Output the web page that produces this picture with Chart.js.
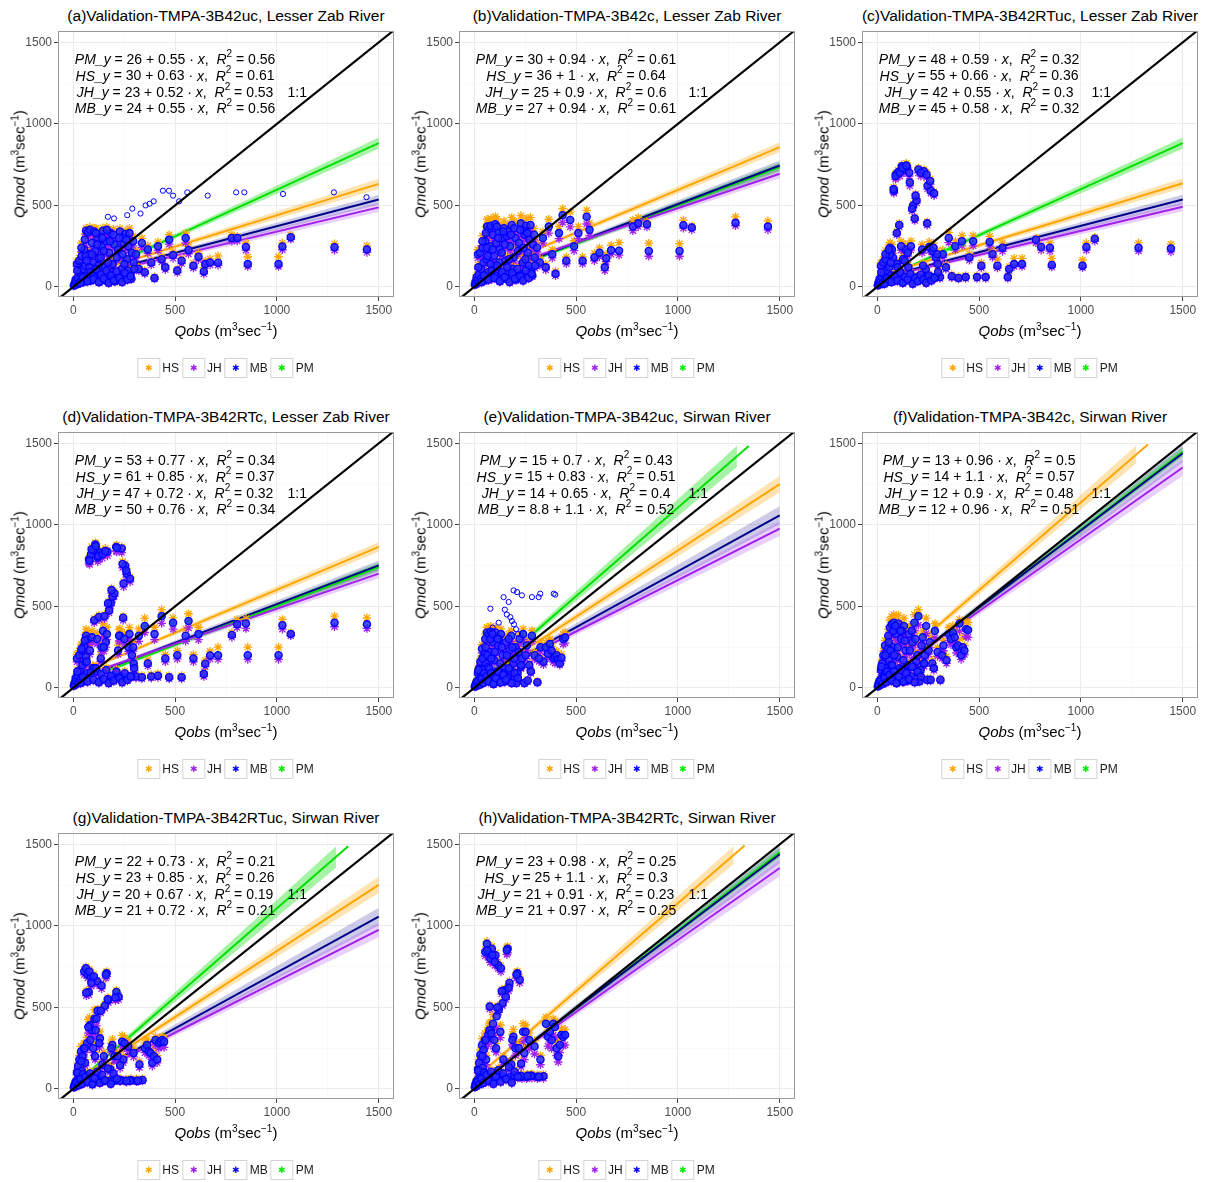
<!DOCTYPE html>
<html>
<head>
<meta charset="utf-8">
<script src="https://cdn.jsdelivr.net/npm/chart.js@4.4.1/dist/chart.umd.min.js"></script>
<style>
  body { margin: 0; background: #fff; font-family: 'Liberation Sans', Arial, sans-serif; color: #000; }
  #page { position: relative; width: 1205px; height: 1182px; overflow: hidden; }
  .panel { position: absolute; width: 400px; height: 400px; }
  .panel canvas { position: absolute; left: 0; top: 0; }
  .ttl { position: absolute; left: 226px; top: 16px; transform: translate(-50%, -50%); font-size: 15.5px; white-space: nowrap; }
  .ylab { position: absolute; left: 19px; top: 164px; transform: translate(-50%, -50%) rotate(-90deg); font-size: 15px; white-space: nowrap; }
  .xlab { position: absolute; left: 226px; top: 330px; transform: translate(-50%, -50%); font-size: 15px; white-space: nowrap; }
  sup { font-size: 10px; line-height: 0; vertical-align: 6px; }
  .lg { position: absolute; left: 227px; top: 358px; transform: translateX(-50%); display: flex; align-items: center; white-space: nowrap; }
  .key { width: 21px; height: 18px; border: 1px solid #d4d4d4; display: flex; align-items: center; justify-content: center; font-size: 9px; margin-right: 2px; }
  .lbl { font-size: 12px; margin-right: 3px; color: #1a1a1a; }
</style>
</head>
<body>
<div id="page"></div>
<script>
// ── Débits observés (axe x) ───────────────────────────────────────────
const lzQobs = [
  3, 6, 9, 12, 15, 18, 22, 25, 29, 33, 37, 41, 45, 50, 54, 59, 63, 68, 72, 77,
  82, 87, 92, 97, 103, 108, 114, 120, 126, 132, 139, 146, 153, 160, 168, 176, 184, 193, 202, 211,
  220, 229, 238, 247, 255, 263, 271, 279, 288, 297, 62, 96, 128, 165, 205, 245,
  308, 322, 337, 351, 366, 383, 399, 416, 434, 452, 471, 490, 511, 532, 552, 566, 590, 615,
  641, 648, 672, 711, 779, 805, 848, 857, 1008, 1027, 1068, 1283, 1442,
  20, 40, 57, 66, 80, 90, 100, 111, 117, 123, 135, 143, 150, 157, 171, 180, 188, 197, 214, 225,
  234, 242, 251, 260, 268, 276, 285, 294,
  35, 48, 70, 85, 99, 112, 125, 137, 149, 162, 174, 186, 199, 212, 226, 240, 253, 266, 281, 299]

const swQobs = [
  3, 6, 9, 12, 15, 18, 21, 24, 27, 30, 34, 38, 42, 46, 50, 54, 58, 62, 66, 71,
  76, 81, 86, 92, 98, 104, 110, 117, 124, 131, 139, 147, 155, 164, 173, 182, 192, 202, 212, 223,
  234, 246, 258, 270, 283, 296, 310, 325, 340, 52, 68, 95, 120, 150, 200, 240,
  352, 362, 371, 380, 388, 396, 404, 412, 420, 428, 437, 446,
  10, 20, 32, 40, 48, 56, 64, 74, 79, 84, 89, 101, 107, 114, 128, 135, 143, 160, 169, 178,
  187, 197, 207, 218, 229, 252, 278, 318,
  8, 16, 26, 36, 44, 60, 70, 82, 94, 106, 118, 130, 142, 156, 170, 184, 198, 214, 230, 262]

const oneToOne = [[-100, -100], [1700, 1700]]

// ── (a) 3B42uc, Lesser Zab ────────────────────────────────────────────
const aMB = [8, 20, 12, 45, 30, 140, 55, 20, 160, 85, 40, 190, 110, 30, 230, 130, 345, 70, 335, 200,
  350, 40, 270, 150, 340, 220, 90, 300, 175, 60, 250, 345, 120, 280, 70, 210, 330, 140, 260, 45,
  230, 340, 110, 270, 325, 170, 250, 80, 210, 150, 190, 95, 30, 350, 35, 300,
  200, 110, 270, 90, 230, 150, 55, 250, 170, 120, 290, 195, 100, 160, 300, 225, 130, 185,
  95, 140, 150, 148, 300, 300, 245, 140, 140, 248, 305, 243, 230,
  100, 240, 290, 160, 120, 200, 60, 330, 260, 130, 180, 300, 220, 40, 150, 280, 90, 320, 180, 300,
  60, 200, 140, 290, 100, 330, 50, 280,
  25, 60, 35, 90, 45, 110, 30, 75, 50, 100, 25, 70, 40, 95, 55, 30, 85, 45, 65, 110]
const aHS = [12, 25, 16, 52, 36, 155, 62, 26, 178, 95, 47, 210, 122, 36, 255, 145, 360, 80, 352, 222,
  368, 48, 298, 166, 358, 243, 100, 330, 194, 68, 276, 362, 133, 308, 78, 232, 348, 155, 287, 52,
  254, 358, 122, 298, 345, 188, 276, 90, 232, 166, 210, 105, 36, 368, 40, 330,
  222, 122, 298, 100, 254, 166, 62, 276, 188, 133, 320, 216, 110, 177, 330, 248, 145, 205,
  118, 160, 172, 190, 320, 310, 268, 185, 185, 270, 318, 265, 252,
  112, 268, 325, 180, 135, 224, 68, 360, 290, 146, 202, 335, 246, 46, 168, 312, 100, 355, 202, 335,
  68, 224, 157, 325, 112, 360, 56, 312,
  32, 70, 42, 102, 52, 124, 36, 86, 58, 114, 30, 80, 47, 108, 63, 36, 97, 52, 74, 124]
const aJH = [6, 17, 10, 40, 26, 125, 48, 17, 144, 76, 35, 170, 98, 26, 205, 116, 320, 62, 310, 180,
  322, 35, 242, 134, 312, 196, 80, 268, 156, 52, 224, 318, 106, 250, 62, 188, 302, 124, 232, 40,
  206, 310, 98, 242, 298, 152, 224, 70, 188, 134, 170, 84, 26, 322, 30, 268,
  178, 98, 242, 80, 206, 134, 48, 224, 152, 106, 262, 175, 88, 143, 270, 202, 116, 166,
  80, 128, 135, 133, 280, 282, 225, 125, 125, 228, 292, 225, 212,
  90, 216, 262, 144, 108, 180, 54, 298, 234, 117, 162, 270, 198, 36, 135, 252, 81, 288, 162, 270,
  54, 180, 126, 262, 90, 298, 45, 252,
  20, 52, 30, 80, 39, 98, 25, 66, 44, 88, 20, 62, 34, 84, 48, 25, 75, 39, 57, 98]
const aMBopen = [[170, 430], [265, 440], [290, 480], [330, 450], [355, 500], [375, 510], [395, 525],
  [440, 590], [470, 590], [490, 560], [520, 525], [560, 580], [660, 560], [800, 580], [840, 580],
  [1030, 570], [1280, 580], [1440, 550], [30, 130], [200, 420]]
const aPM = [[103, 340], [139, 250], [202, 260], [247, 270], [308, 200], [366, 230], [471, 290], [552, 300]]
const aFit = [[0, 55, 1500, 632], [0, 42, 1500, 488], [0, 45, 1500, 536], [0, 25, 1500, 882]]
const aBand = [[0, 48, 62, 1500, 600, 664], [0, 35, 49, 1500, 460, 516], [0, 38, 52, 1500, 506, 566], [0, 18, 32, 1500, 847, 917]]
const aEq = [['PM', '26', '0.55', '0.56'], ['HS', '30', '0.63', '0.61'], ['JH', '23', '0.52', '0.53'], ['MB', '24', '0.55', '0.56']]

// ── (b) 3B42c, Lesser Zab ─────────────────────────────────────────────
const bMB = [15, 30, 20, 60, 40, 200, 75, 30, 210, 110, 55, 240, 150, 40, 280, 170, 370, 90, 355, 250,
  375, 55, 320, 190, 385, 270, 120, 340, 230, 75, 300, 360, 160, 310, 95, 250, 380, 180, 300, 60,
  270, 390, 150, 320, 375, 210, 290, 110, 260, 180, 240, 130, 40, 340, 45, 345,
  240, 150, 300, 120, 370, 200, 80, 330, 440, 160, 410, 250, 330, 160, 430, 350, 180, 210,
  120, 175, 225, 222, 370, 390, 385, 220, 220, 378, 365, 393, 370,
  120, 280, 330, 190, 140, 230, 70, 370, 300, 150, 210, 340, 260, 50, 170, 320, 110, 360, 220, 350,
  80, 240, 170, 330, 130, 380, 70, 320,
  30, 70, 45, 100, 55, 130, 35, 90, 60, 120, 30, 85, 50, 110, 65, 40, 100, 55, 80, 130]
const bHS = [24, 41, 30, 74, 52, 228, 90, 41, 239, 129, 68, 272, 173, 52, 316, 195, 415, 107, 398, 283,
  420, 68, 360, 217, 432, 305, 140, 382, 261, 90, 338, 404, 184, 349, 112, 283, 426, 206, 338, 74,
  305, 437, 173, 360, 420, 239, 327, 129, 294, 206, 272, 151, 52, 382, 58, 388,
  272, 173, 338, 140, 415, 228, 96, 371, 480, 184, 459, 283, 371, 184, 470, 393, 206, 239,
  140, 200, 255, 272, 410, 425, 400, 268, 265, 410, 375, 430, 405,
  134, 314, 370, 213, 157, 258, 78, 415, 336, 168, 235, 380, 291, 56, 190, 358, 123, 403, 246, 392,
  90, 269, 190, 370, 146, 425, 78, 358,
  38, 82, 54, 118, 65, 152, 42, 106, 70, 140, 36, 100, 60, 128, 76, 48, 117, 65, 94, 152]
const bJH = [10, 24, 15, 50, 32, 178, 64, 24, 186, 96, 46, 214, 132, 32, 250, 150, 332, 78, 318, 222,
  336, 46, 286, 168, 344, 240, 104, 304, 204, 64, 268, 322, 142, 276, 82, 222, 340, 160, 268, 50,
  240, 350, 132, 286, 336, 186, 258, 96, 232, 160, 214, 114, 32, 304, 38, 308,
  214, 132, 268, 104, 330, 178, 68, 296, 395, 142, 368, 222, 296, 142, 386, 314, 160, 186,
  100, 155, 200, 195, 345, 370, 368, 188, 188, 360, 350, 375, 350,
  108, 252, 297, 171, 126, 207, 63, 333, 270, 135, 189, 306, 234, 45, 153, 288, 99, 324, 198, 315,
  72, 216, 153, 297, 117, 342, 63, 288,
  24, 60, 38, 88, 48, 114, 30, 78, 52, 106, 24, 74, 43, 96, 56, 34, 88, 48, 70, 114]
const bPM = [[120, 340], [176, 250], [247, 320], [337, 300], [416, 330], [490, 250], [566, 350], [615, 210]]
const bFit = [[0, 70, 1500, 858], [0, 60, 1500, 694], [0, 35, 1500, 745], [0, 30, 1500, 735]]
const bBand = [[0, 63, 77, 1500, 828, 888], [0, 53, 67, 1500, 666, 722], [0, 28, 42, 1500, 715, 775], [0, 23, 37, 1500, 707, 763]]
const bEq = [['PM', '30', '0.94', '0.61'], ['HS', '36', '1', '0.64'], ['JH', '25', '0.9', '0.6'], ['MB', '27', '0.94', '0.61']]

// ── (c) 3B42RTuc, Lesser Zab ──────────────────────────────────────────
const cMB = [10, 25, 15, 50, 30, 130, 60, 20, 150, 80, 40, 170, 100, 30, 200, 120, 240, 70, 230, 180,
  590, 40, 690, 140, 705, 380, 90, 740, 170, 720, 230, 735, 120, 640, 60, 500, 420, 530, 720, 45,
  230, 710, 110, 620, 245, 590, 220, 575, 180, 140, 200, 330, 30, 250, 50, 390,
  60, 200, 120, 300, 65, 250, 55, 280, 60, 180, 280, 60, 130, 60, 275, 200, 130, 240,
  60, 110, 140, 140, 290, 245, 240, 135, 130, 245, 295, 240, 235,
  90, 200, 230, 150, 600, 680, 120, 700, 250, 730, 160, 745, 210, 700, 480, 40, 560, 60, 700, 130,
  60, 690, 60, 650, 60, 240, 60, 200,
  20, 50, 30, 70, 40, 90, 25, 60, 45, 80, 20, 55, 35, 75, 45, 25, 70, 40, 55, 90]
const cHS = [14, 30, 20, 58, 36, 148, 70, 25, 170, 92, 46, 192, 114, 36, 226, 136, 272, 80, 260, 204,
  600, 46, 700, 160, 715, 390, 102, 750, 192, 730, 260, 745, 136, 650, 70, 510, 430, 540, 730, 52,
  260, 720, 125, 630, 276, 600, 250, 585, 204, 160, 226, 340, 36, 282, 58, 400,
  70, 226, 136, 335, 75, 282, 64, 315, 70, 204, 315, 70, 148, 70, 310, 226, 170, 270,
  70, 125, 175, 175, 300, 255, 270, 175, 165, 270, 305, 270, 262,
  100, 224, 258, 168, 612, 694, 134, 714, 280, 745, 179, 760, 235, 714, 490, 45, 571, 67, 714, 146,
  67, 704, 67, 663, 67, 269, 67, 224,
  25, 58, 36, 80, 46, 102, 30, 68, 52, 92, 25, 63, 40, 86, 52, 30, 80, 46, 63, 102]
const cJH = [7, 20, 11, 44, 25, 118, 53, 16, 136, 72, 35, 155, 90, 25, 182, 108, 218, 62, 208, 164,
  575, 35, 670, 126, 685, 368, 80, 720, 154, 700, 208, 715, 108, 620, 53, 485, 408, 515, 700, 40,
  208, 690, 98, 600, 222, 575, 198, 560, 164, 126, 182, 320, 25, 226, 44, 378,
  52, 182, 108, 272, 56, 226, 48, 252, 52, 164, 252, 52, 116, 52, 250, 182, 116, 218,
  52, 100, 125, 125, 270, 225, 220, 122, 118, 225, 280, 220, 215,
  81, 180, 207, 135, 582, 660, 108, 679, 225, 708, 144, 723, 189, 679, 466, 36, 543, 54, 679, 117,
  54, 669, 54, 630, 54, 216, 54, 180,
  15, 43, 25, 62, 34, 80, 20, 52, 38, 70, 15, 48, 30, 66, 38, 20, 62, 34, 48, 80]
const cPM = [[120, 740], [202, 720], [330, 220], [360, 235], [390, 250], [420, 262], [471, 280], [552, 275]]
const cFit = [[0, 65, 1500, 636], [0, 48, 1500, 492], [0, 52, 1500, 536], [0, 35, 1500, 882]]
const cBand = [[0, 58, 72, 1500, 606, 666], [0, 41, 55, 1500, 464, 520], [0, 45, 59, 1500, 506, 566], [0, 28, 42, 1500, 847, 917]]
const cEq = [['PM', '48', '0.59', '0.32'], ['HS', '55', '0.66', '0.36'], ['JH', '42', '0.55', '0.3'], ['MB', '45', '0.58', '0.32']]

// ── (d) 3B42RTc, Lesser Zab ───────────────────────────────────────────
const dMB = [15, 30, 20, 60, 40, 180, 75, 30, 200, 110, 55, 230, 140, 40, 260, 160, 320, 90, 300, 790,
  230, 820, 310, 845, 415, 880, 100, 800, 435, 830, 250, 350, 440, 280, 835, 475, 520, 560, 580, 865,
  230, 320, 855, 640, 750, 700, 250, 670, 200, 150, 190, 120, 40, 330, 70, 430,
  70, 320, 65, 380, 150, 70, 330, 75, 440, 180, 65, 400, 200, 65, 320, 410, 180, 330,
  86, 148, 199, 200, 325, 390, 395, 200, 200, 385, 330, 400, 390,
  100, 240, 290, 160, 780, 850, 120, 870, 300, 810, 180, 820, 250, 840, 520, 50, 600, 70, 860, 320,
  70, 760, 300, 720, 70, 330, 70, 250,
  30, 65, 40, 95, 50, 120, 35, 85, 55, 110, 30, 75, 45, 100, 60, 35, 90, 50, 70, 120]
const dHS = [20, 36, 25, 70, 48, 205, 86, 36, 228, 125, 64, 262, 160, 48, 295, 182, 360, 104, 340, 800,
  262, 830, 350, 855, 425, 890, 115, 812, 445, 840, 285, 395, 450, 318, 845, 485, 530, 570, 592, 875,
  262, 362, 865, 652, 762, 712, 285, 680, 228, 172, 216, 138, 48, 372, 82, 440,
  82, 362, 76, 428, 172, 82, 372, 88, 480, 205, 76, 430, 228, 76, 362, 455, 205, 372,
  100, 170, 225, 250, 340, 420, 425, 250, 250, 420, 340, 440, 430,
  112, 268, 325, 180, 795, 867, 134, 887, 336, 826, 202, 836, 280, 857, 530, 56, 612, 78, 877, 358,
  78, 775, 336, 734, 78, 370, 78, 280,
  38, 75, 48, 108, 58, 136, 42, 97, 63, 125, 36, 86, 53, 114, 69, 42, 103, 58, 80, 136]
const dJH = [10, 25, 15, 52, 34, 160, 66, 25, 178, 98, 48, 206, 125, 34, 232, 143, 288, 80, 268, 765,
  206, 795, 278, 820, 400, 855, 88, 775, 420, 805, 224, 315, 425, 250, 810, 460, 505, 542, 562, 840,
  206, 286, 830, 620, 728, 680, 224, 650, 178, 134, 170, 106, 34, 296, 60, 415,
  60, 286, 56, 340, 134, 60, 296, 64, 396, 160, 56, 360, 178, 56, 286, 368, 160, 296,
  70, 130, 178, 175, 310, 370, 365, 175, 175, 360, 320, 375, 365,
  90, 216, 262, 144, 757, 825, 108, 844, 270, 786, 162, 795, 225, 815, 504, 45, 582, 63, 834, 288,
  63, 737, 270, 698, 63, 297, 63, 225,
  24, 56, 34, 84, 43, 106, 29, 75, 48, 97, 24, 66, 38, 88, 52, 29, 79, 43, 61, 106]
const dPM = [[108, 880], [211, 865], [255, 750], [351, 380], [434, 440], [490, 400], [566, 410], [615, 330]]
const dFit = [[0, 75, 1500, 865], [0, 55, 1500, 701], [0, 40, 1500, 752], [0, 25, 1500, 742]]
const dBand = [[0, 68, 82, 1500, 835, 895], [0, 48, 62, 1500, 673, 729], [0, 33, 47, 1500, 722, 782], [0, 18, 32, 1500, 714, 770]]
const dEq = [['PM', '53', '0.77', '0.34'], ['HS', '61', '0.85', '0.37'], ['JH', '47', '0.72', '0.32'], ['MB', '50', '0.76', '0.34']]

// ── (e) 3B42uc, Sirwan ────────────────────────────────────────────────
const eMB = [8, 20, 12, 40, 25, 90, 50, 120, 30, 160, 70, 240, 110, 190, 40, 300, 150, 340, 80, 330,
  220, 345, 60, 280, 170, 340, 100, 260, 35, 330, 200, 120, 280, 60, 230, 320, 150, 250, 90, 300,
  180, 30, 260, 140, 320, 200, 35, 250, 160, 210, 130, 25, 300, 40, 60, 330,
  250, 210, 270, 230, 180, 190, 200, 175, 150, 185, 300, 310,
  30, 110, 60, 180, 90, 250, 200, 120, 300, 180, 330, 220, 60, 300, 150, 250, 90, 200, 300, 110,
  250, 180, 30, 220, 130, 200, 100, 180,
  15, 35, 20, 55, 30, 70, 40, 90, 25, 60, 100, 35, 80, 50, 120, 30, 90, 60, 140, 45]
const eHS = [10, 24, 16, 46, 30, 102, 58, 135, 36, 178, 80, 265, 124, 210, 46, 330, 168, 372, 92, 362,
  244, 378, 70, 310, 190, 372, 112, 288, 42, 362, 222, 135, 310, 70, 255, 352, 168, 278, 102, 330,
  200, 38, 288, 158, 352, 222, 42, 278, 180, 232, 146, 30, 330, 48, 70, 362,
  278, 235, 300, 255, 202, 212, 225, 196, 170, 207, 330, 342,
  33, 121, 66, 198, 99, 275, 220, 132, 330, 198, 363, 242, 66, 330, 165, 275, 99, 220, 330, 121,
  275, 198, 33, 242, 143, 220, 110, 198,
  18, 40, 24, 62, 35, 78, 46, 100, 30, 68, 112, 40, 90, 57, 134, 35, 100, 68, 156, 52]
const eJH = [6, 16, 9, 34, 21, 78, 44, 106, 25, 142, 62, 214, 97, 170, 34, 268, 133, 305, 70, 296,
  196, 310, 52, 250, 152, 305, 88, 232, 30, 296, 178, 106, 250, 52, 205, 286, 133, 222, 80, 268,
  160, 25, 232, 124, 286, 178, 30, 222, 142, 186, 115, 20, 268, 34, 52, 296,
  222, 186, 240, 205, 160, 150, 178, 155, 140, 165, 268, 275,
  27, 99, 54, 162, 81, 225, 180, 108, 270, 162, 297, 198, 54, 270, 135, 225, 81, 180, 270, 99,
  225, 162, 27, 198, 117, 180, 90, 162,
  12, 30, 16, 47, 25, 60, 34, 78, 20, 52, 86, 30, 69, 43, 104, 25, 78, 52, 122, 38]
const eMBopen = [[79, 486], [144, 557], [169, 527], [193, 598], [210, 588], [234, 568], [283, 557],
  [316, 557], [324, 578], [390, 578], [398, 572], [177, 434], [185, 410], [195, 390], [205, 360],
  [215, 330], [160, 450], [120, 400], [90, 370], [150, 480]]
const ePM = [[62, 340], [131, 330], [240, 330], [283, 320], [352, 250], [371, 270], [437, 300], [446, 310]]
const eFit = [[0, 30, 1500, 1250], [0, 30, 1500, 977], [0, 30, 1500, 1059], [0, 20, 1348, 1484]]
const eBand = [[0, 22, 38, 1500, 1200, 1300], [0, 22, 38, 1500, 932, 1022], [0, 22, 38, 1500, 1004, 1114], [0, 12, 28, 1290, 1356, 1486]]
const eEq = [['PM', '15', '0.7', '0.43'], ['HS', '15', '0.83', '0.51'], ['JH', '14', '0.65', '0.4'], ['MB', '8.8', '1.1', '0.52']]

// ── (f) 3B42c, Sirwan ─────────────────────────────────────────────────
const fMB = [10, 25, 15, 45, 30, 110, 60, 150, 35, 200, 80, 260, 120, 220, 45, 320, 170, 370, 90, 390,
  250, 400, 70, 330, 190, 395, 120, 300, 40, 380, 230, 140, 330, 70, 280, 400, 160, 440, 110, 310,
  200, 50, 280, 150, 350, 220, 50, 260, 170, 240, 140, 30, 350, 45, 90, 380,
  330, 300, 340, 310, 250, 260, 395, 200, 250, 230, 360, 355,
  35, 130, 70, 200, 100, 280, 230, 140, 350, 200, 380, 250, 70, 350, 170, 290, 100, 230, 350, 130,
  300, 200, 40, 260, 150, 230, 120, 200,
  18, 40, 25, 60, 35, 80, 45, 100, 30, 70, 110, 40, 90, 55, 130, 35, 100, 70, 150, 50]
const fHS = [12, 30, 18, 52, 36, 124, 68, 170, 40, 226, 90, 292, 135, 248, 52, 360, 192, 415, 102, 438,
  282, 450, 80, 372, 214, 445, 135, 338, 46, 428, 260, 158, 372, 80, 315, 450, 180, 480, 124, 348,
  226, 58, 315, 170, 395, 248, 58, 292, 192, 270, 158, 36, 395, 52, 102, 428,
  372, 338, 382, 348, 282, 292, 420, 228, 310, 260, 405, 400,
  39, 146, 78, 224, 112, 314, 258, 157, 392, 224, 426, 280, 78, 392, 190, 325, 112, 258, 392, 146,
  336, 224, 45, 291, 168, 258, 134, 224,
  21, 46, 30, 68, 40, 90, 52, 112, 35, 80, 124, 46, 102, 63, 146, 40, 112, 80, 168, 57]
const fJH = [7, 20, 11, 38, 24, 96, 52, 132, 28, 176, 70, 228, 105, 194, 38, 282, 150, 325, 78, 343,
  220, 352, 60, 290, 166, 348, 105, 264, 34, 334, 202, 122, 290, 60, 246, 352, 140, 386, 96, 272,
  176, 42, 246, 132, 308, 194, 42, 228, 150, 210, 122, 25, 308, 38, 78, 334,
  290, 264, 298, 272, 215, 225, 348, 175, 200, 205, 315, 310,
  31, 117, 63, 180, 90, 252, 207, 126, 315, 180, 342, 225, 63, 315, 153, 261, 90, 207, 315, 117,
  270, 180, 36, 234, 135, 207, 108, 180,
  14, 34, 20, 52, 30, 70, 38, 88, 25, 60, 96, 34, 78, 47, 114, 30, 88, 60, 132, 43]
const fPM = [[81, 400], [182, 400], [202, 440], [283, 350], [352, 330], [371, 340], [404, 395], [437, 360]]
const fFit = [[0, 60, 1329, 1494], [0, 30, 1500, 1352], [0, 20, 1500, 1440], [0, 15, 1500, 1449]]
const fBand = [[0, 52, 68, 1272, 1378, 1488], [0, 22, 38, 1500, 1302, 1402], [0, 12, 28, 1500, 1385, 1495], [0, 8, 22, 1500, 1419, 1479]]
const fEq = [['PM', '13', '0.96', '0.5'], ['HS', '14', '1.1', '0.57'], ['JH', '12', '0.9', '0.48'], ['MB', '12', '0.96', '0.51']]

// ── (g) 3B42RTuc, Sirwan ──────────────────────────────────────────────
const gMB = [10, 25, 15, 45, 30, 100, 55, 140, 35, 180, 75, 230, 110, 200, 40, 720, 160, 740, 80, 700,
  595, 390, 690, 360, 250, 430, 360, 660, 55, 310, 635, 50, 510, 710, 545, 120, 270, 200, 595, 565,
  55, 180, 50, 260, 55, 220, 50, 150, 55, 250, 280, 40, 480, 200, 50, 290,
  250, 270, 230, 220, 160, 200, 300, 180, 280, 290, 300, 290,
  30, 100, 60, 170, 90, 250, 590, 380, 720, 300, 650, 690, 200, 430, 280, 480, 150, 700, 550, 50,
  250, 50, 560, 200, 50, 280, 50, 50,
  16, 38, 22, 58, 32, 75, 42, 95, 28, 65, 105, 38, 85, 52, 125, 32, 95, 62, 145, 48]
const gHS = [12, 30, 18, 52, 36, 114, 64, 158, 40, 204, 86, 260, 124, 226, 46, 730, 180, 750, 92, 710,
  605, 440, 700, 405, 282, 485, 405, 670, 64, 350, 645, 60, 520, 720, 555, 136, 305, 226, 605, 575,
  64, 204, 60, 294, 64, 250, 60, 170, 64, 282, 316, 46, 490, 226, 60, 328,
  282, 305, 260, 248, 180, 226, 320, 204, 300, 310, 320, 310,
  34, 112, 67, 190, 100, 280, 602, 426, 734, 336, 663, 704, 224, 482, 314, 490, 168, 714, 561, 56,
  280, 56, 571, 224, 56, 314, 56, 56,
  19, 43, 26, 66, 37, 84, 48, 107, 32, 74, 118, 43, 96, 59, 140, 37, 107, 70, 163, 55]
const gJH = [7, 20, 11, 38, 24, 88, 48, 124, 28, 160, 66, 205, 98, 178, 34, 700, 142, 718, 70, 680,
  578, 350, 670, 322, 222, 418, 322, 640, 48, 278, 615, 44, 495, 690, 528, 106, 240, 178, 578, 548,
  48, 160, 44, 232, 48, 196, 44, 132, 48, 222, 250, 34, 465, 178, 44, 258,
  222, 240, 205, 195, 140, 178, 268, 160, 250, 258, 265, 255,
  27, 90, 54, 153, 81, 225, 572, 342, 698, 270, 630, 669, 180, 387, 252, 466, 135, 679, 533, 45,
  225, 45, 543, 180, 45, 252, 45, 45,
  13, 32, 18, 50, 27, 64, 36, 82, 23, 56, 90, 32, 73, 45, 108, 27, 82, 54, 126, 41]
const gPM = [[54, 720], [62, 740], [164, 710], [212, 595], [352, 250], [362, 270], [404, 300], [428, 290]]
const gFit = [[0, 35, 1500, 1252], [0, 30, 1500, 975], [0, 30, 1500, 1057], [0, 20, 1350, 1488]]
const gBand = [[0, 27, 43, 1500, 1202, 1302], [0, 22, 38, 1500, 930, 1020], [0, 22, 38, 1500, 1002, 1112], [0, 12, 28, 1291, 1358, 1488]]
const gEq = [['PM', '22', '0.73', '0.21'], ['HS', '23', '0.85', '0.26'], ['JH', '20', '0.67', '0.19'], ['MB', '21', '0.72', '0.21']]

// ── (h) 3B42RTc, Sirwan ───────────────────────────────────────────────
const hMB = [12, 30, 18, 50, 35, 120, 60, 160, 40, 210, 85, 270, 130, 240, 45, 840, 180, 890, 90, 830,
  505, 360, 860, 400, 300, 820, 445, 760, 80, 740, 525, 75, 565, 860, 650, 150, 320, 250, 710, 670,
  75, 220, 75, 300, 80, 260, 75, 180, 78, 300, 330, 50, 485, 605, 80, 350,
  400, 320, 350, 300, 400, 380, 250, 200, 270, 330, 320, 330,
  35, 110, 70, 200, 100, 300, 850, 360, 800, 340, 820, 780, 250, 500, 350, 600, 180, 850, 620, 75,
  300, 80, 700, 250, 80, 350, 80, 75,
  20, 42, 28, 62, 36, 85, 48, 105, 32, 75, 115, 45, 95, 60, 135, 40, 105, 75, 155, 80]
const hHS = [14, 36, 22, 58, 42, 138, 70, 182, 46, 240, 98, 308, 148, 274, 52, 855, 205, 905, 104, 845,
  515, 410, 875, 455, 342, 835, 500, 775, 92, 755, 535, 86, 575, 875, 662, 172, 365, 285, 722, 685,
  86, 250, 86, 342, 92, 296, 86, 205, 90, 342, 376, 58, 495, 615, 92, 400,
  440, 360, 395, 340, 430, 420, 282, 228, 300, 370, 360, 365,
  39, 123, 78, 224, 112, 336, 867, 403, 816, 381, 836, 796, 280, 510, 392, 612, 202, 867, 632, 84,
  336, 90, 714, 280, 90, 392, 90, 84,
  24, 48, 33, 70, 42, 96, 55, 118, 37, 85, 130, 52, 107, 68, 152, 46, 118, 85, 174, 90]
const hJH = [8, 24, 14, 42, 28, 98, 50, 132, 32, 172, 70, 222, 108, 198, 38, 815, 148, 865, 74, 805,
  490, 300, 835, 330, 246, 795, 370, 738, 66, 718, 510, 62, 548, 835, 630, 124, 262, 205, 690, 650,
  62, 180, 62, 246, 66, 214, 62, 148, 64, 246, 272, 40, 470, 587, 66, 288,
  330, 262, 288, 248, 330, 315, 205, 165, 222, 275, 265, 270,
  31, 99, 63, 180, 90, 270, 825, 324, 776, 306, 795, 757, 225, 485, 315, 582, 162, 825, 601, 68,
  270, 72, 679, 225, 72, 315, 72, 68,
  16, 36, 23, 54, 31, 74, 41, 91, 27, 65, 100, 38, 82, 52, 118, 34, 91, 65, 135, 70]
const hPM = [[54, 840], [62, 890], [164, 860], [212, 710], [352, 400], [388, 400], [428, 330], [446, 330]]
const hFit = [[0, 60, 1328, 1494], [0, 30, 1500, 1355], [0, 20, 1500, 1440], [0, 15, 1500, 1451]]
const hBand = [[0, 52, 68, 1274, 1380, 1490], [0, 22, 38, 1500, 1305, 1405], [0, 12, 28, 1500, 1385, 1495], [0, 8, 22, 1500, 1421, 1481]]
const hEq = [['PM', '23', '0.98', '0.25'], ['HS', '25', '1.1', '0.3'], ['JH', '21', '0.91', '0.23'], ['MB', '21', '0.97', '0.25']]

// ── Panneaux ──────────────────────────────────────────────────────────
const panels = [
  { pos: [0, 0],     title: '(a)Validation-TMPA-3B42uc, Lesser Zab River',   obs: lzQobs, hs: aHS, jh: aJH, mb: aMB, mbOpen: aMBopen, pm: aPM, fit: aFit, band: aBand, eq: aEq },
  { pos: [401, 0],   title: '(b)Validation-TMPA-3B42c, Lesser Zab River',    obs: lzQobs, hs: bHS, jh: bJH, mb: bMB, mbOpen: [], pm: bPM, fit: bFit, band: bBand, eq: bEq },
  { pos: [804, 0],   title: '(c)Validation-TMPA-3B42RTuc, Lesser Zab River', obs: lzQobs, hs: cHS, jh: cJH, mb: cMB, mbOpen: [], pm: cPM, fit: cFit, band: cBand, eq: cEq },
  { pos: [0, 401],   title: '(d)Validation-TMPA-3B42RTc, Lesser Zab River',  obs: lzQobs, hs: dHS, jh: dJH, mb: dMB, mbOpen: [], pm: dPM, fit: dFit, band: dBand, eq: dEq },
  { pos: [401, 401], title: '(e)Validation-TMPA-3B42uc, Sirwan River',       obs: swQobs, hs: eHS, jh: eJH, mb: eMB, mbOpen: eMBopen, pm: ePM, fit: eFit, band: eBand, eq: eEq },
  { pos: [804, 401], title: '(f)Validation-TMPA-3B42c, Sirwan River',        obs: swQobs, hs: fHS, jh: fJH, mb: fMB, mbOpen: [], pm: fPM, fit: fFit, band: fBand, eq: fEq },
  { pos: [0, 802],   title: '(g)Validation-TMPA-3B42RTuc, Sirwan River',     obs: swQobs, hs: gHS, jh: gJH, mb: gMB, mbOpen: [], pm: gPM, fit: gFit, band: gBand, eq: gEq },
  { pos: [401, 802], title: '(h)Validation-TMPA-3B42RTc, Sirwan River',      obs: swQobs, hs: hHS, jh: hJH, mb: hMB, mbOpen: [], pm: hPM, fit: hFit, band: hBand, eq: hEq },
]

// ── Styles communs ────────────────────────────────────────────────────
const FONT   = "'Liberation Sans', Arial, sans-serif"
const SERIES = ['HS', 'JH', 'MB', 'PM']
const PT     = { HS: '#FFA500', JH: '#A020F0', MB: '#0000FF', PM: '#00EE00' }
const LINE   = { HS: '#FFA500', JH: '#A020F0', MB: '#00008B', PM: '#00E000' }
const BAND   = { HS: 'rgba(255,165,0,0.3)', JH: 'rgba(160,32,240,0.22)', MB: 'rgba(0,0,139,0.2)', PM: 'rgba(0,220,0,0.35)' }
const EQ_X   = 500
const EQ_Y   = [1390, 1290, 1188, 1088]

Chart.defaults.font.family = FONT

const pts   = (xs, ys) => ys.map((y, i) => ({ x: xs[i], y }))
const pairs = arr => arr.map(([x, y]) => ({ x, y }))
const major = ctx => ctx.tick && ctx.tick.value % 500 === 0

const axis = (min, max, fit) => ({
    type: 'linear', min, max,
    afterFit: fit,
    border: { display: false },
    ticks: { stepSize: 250, includeBounds: false, autoSkip: false, maxRotation: 0, padding: 2,
             color: '#4d4d4d', font: { size: 12 }, callback: v => v % 500 === 0 ? v : '' },
    grid: { color: c => major(c) ? '#ebebeb' : '#f5f5f5', lineWidth: c => major(c) ? 1 : 0.6,
            tickLength: 4, tickWidth: 1, tickColor: c => major(c) ? '#444' : 'rgba(0,0,0,0)' },
})

// équation façon plotmath : PM_y = a + b · x,  R² = r
function drawEq(ctx, cx, cy, row) {
    const [name, a, b, r2] = row
    const runs = [[name + '_y', 1], [' = ' + a + ' + ' + b + ' · ', 0], ['x', 1], [',  ', 0], ['R', 1], ['2', 2], [' = ' + r2, 0]]
    const font = k => k === 1 ? 'italic 14px ' + FONT : k === 2 ? '10px ' + FONT : '14px ' + FONT
    let w = 0
    runs.forEach(([t, k]) => { ctx.font = font(k); w += ctx.measureText(t).width })
    let px = cx - w / 2
    runs.forEach(([t, k]) => {
        ctx.font = font(k)
        ctx.fillText(t, px, k === 2 ? cy - 6 : cy)
        px += ctx.measureText(t).width
    })
}

const legendHtml = SERIES.map(s =>
    `<span class="key"><span style="color:${PT[s]}">✱</span></span><span class="lbl">${s}</span>`).join('')
const unit = '(m<sup>3</sup>sec<sup>−1</sup>)'

const page = document.getElementById('page')

panels.forEach(p => {
    const wrap = document.createElement('div')
    wrap.className = 'panel'
    wrap.style.left = p.pos[0] + 'px'
    wrap.style.top  = p.pos[1] + 'px'
    wrap.innerHTML = `<div class="ttl">${p.title}</div>
        <canvas width="400" height="330"></canvas>
        <div class="ylab"><i>Qmod</i> ${unit}</div>
        <div class="xlab"><i>Qobs</i> ${unit}</div>
        <div class="lg">${legendHtml}</div>`
    page.appendChild(wrap)

    const ds = [
        { type: 'line', data: pairs(oneToOne), borderColor: '#000', borderWidth: 2.2, pointRadius: 0, order: 0, clip: 0 },
        { data: pairs(p.mbOpen), pointStyle: 'circle', pointRadius: 2.6, borderColor: PT.MB, borderWidth: 1, backgroundColor: 'rgba(0,0,0,0)', order: 1, clip: 0 },
        { data: pts(p.obs, p.mb), pointStyle: 'circle', pointRadius: 3.6, borderColor: PT.MB, borderWidth: 1.3, backgroundColor: 'rgba(40,40,255,0.85)', order: 1, clip: 0 },
        { data: pairs(p.pm), pointStyle: 'star', pointRadius: 2.6, borderColor: PT.PM, borderWidth: 1, order: 2, clip: 0 },
        { data: pts(p.obs, p.jh), pointStyle: 'star', pointRadius: 4.3, borderColor: PT.JH, borderWidth: 1.3, order: 3, clip: 0 },
        { data: pts(p.obs, p.hs), pointStyle: 'star', pointRadius: 4.3, borderColor: PT.HS, borderWidth: 1.3, order: 4, clip: 0 },
    ]
    SERIES.forEach((s, k) => {
        const f = p.fit[k], b = p.band[k]
        ds.push({ type: 'line', data: [{ x: f[0], y: f[1] }, { x: f[2], y: f[3] }], borderColor: LINE[s], borderWidth: 2, pointRadius: 0, order: 5, clip: 0 })
        ds.push({ type: 'line', data: [{ x: b[0], y: b[2] }, { x: b[3], y: b[5] }], borderColor: 'rgba(0,0,0,0)', pointRadius: 0, fill: false, order: 6, clip: 0 })
        ds.push({ type: 'line', data: [{ x: b[0], y: b[1] }, { x: b[3], y: b[4] }], borderColor: 'rgba(0,0,0,0)', pointRadius: 0, fill: '-1', backgroundColor: BAND[s], order: 6, clip: 0 })
    })

    const annot = {
        id: 'annot',
        afterDraw(chart) {
            const { ctx, chartArea: a, scales: { x, y } } = chart
            ctx.save()
            ctx.strokeStyle = '#9a9a9a'
            ctx.lineWidth = 1
            ctx.strokeRect(a.left + 0.5, a.top + 0.5, a.right - a.left - 1, a.bottom - a.top - 1)
            ctx.fillStyle = '#000'
            ctx.textBaseline = 'middle'
            ctx.textAlign = 'left'
            p.eq.forEach((row, i) => drawEq(ctx, x.getPixelForValue(EQ_X), y.getPixelForValue(EQ_Y[i]), row))
            ctx.font = '14px ' + FONT
            ctx.textAlign = 'center'
            ctx.fillText('1:1', x.getPixelForValue(1100), y.getPixelForValue(1190))
            ctx.restore()
        }
    }

    new Chart(wrap.querySelector('canvas'), {
        type: 'scatter',
        data: { datasets: ds },
        options: {
            responsive: false, animation: false, devicePixelRatio: 1, events: [],
            layout: { padding: { top: 31, right: 6, left: 0, bottom: 0 } },
            plugins: { legend: { display: false }, tooltip: { enabled: false } },
            scales: {
                x: axis(-75, 1575, s => { s.height = 33 }),
                y: axis(-62, 1570, s => { s.width = 58 }),
            }
        },
        plugins: [annot]
    })
})
</script>
</body>
</html>
